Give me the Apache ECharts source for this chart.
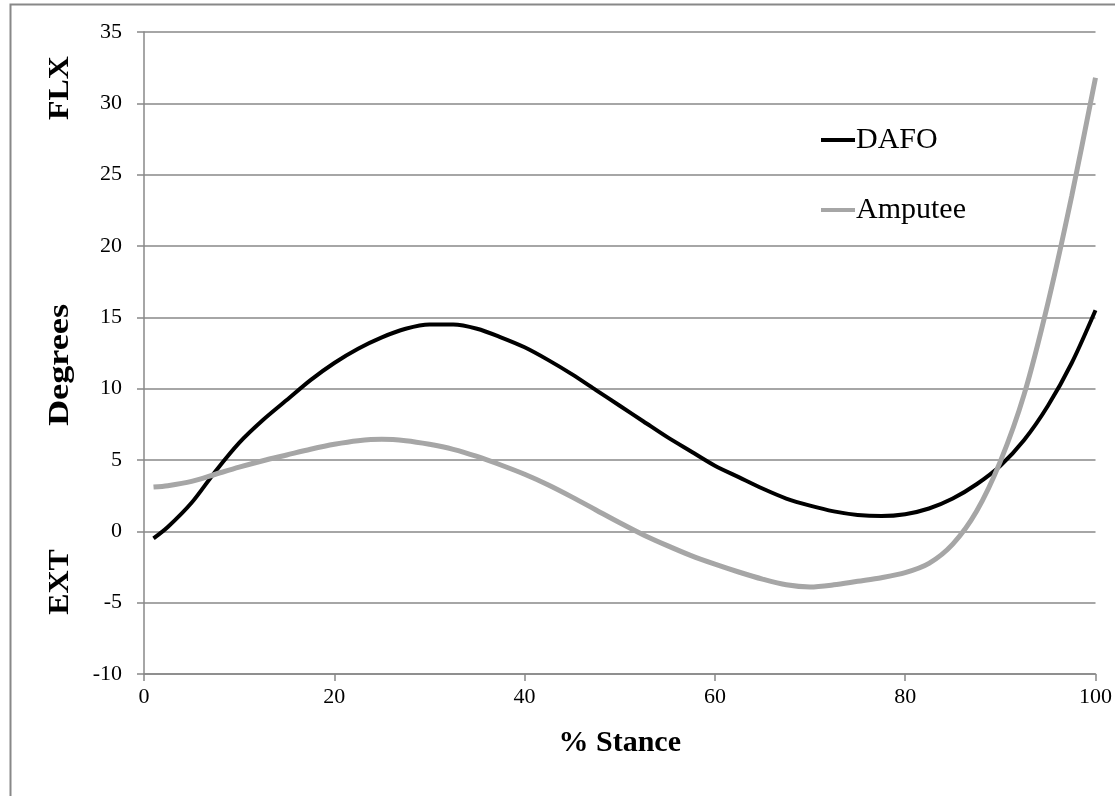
<!DOCTYPE html>
<html lang="en">
<head>
    <meta charset="UTF-8">
    <title>Degrees vs % Stance</title>
    <script src="https://cdn.jsdelivr.net/npm/echarts@6/dist/echarts.min.js"></script>
    <style>
        html, body { margin: 0; padding: 0; background: #fff; }
        #chart { width: 1115px; height: 796px; }
    </style>
</head>
<body>
    <div id="chart"></div>
<script>
    // % stance positions where the curves were read
    var stance = [1, 2.5, 5, 7.5, 10, 12.5, 15, 17.5, 20, 22.5, 25, 27.5, 30, 32.5, 35, 37.5, 40, 42.5, 45, 47.5,
        50, 52.5, 55, 57.5, 60, 62.5, 65, 67.5, 70, 72.5, 75, 77.5, 80, 82.5, 85, 87.5, 90, 92.5, 95, 97.5, 100];
    var dafo = [-0.5, 0.3, 2.0, 4.2, 6.2, 7.8, 9.2, 10.6, 11.8, 12.8, 13.6, 14.2, 14.5, 14.5, 14.2, 13.6, 12.9, 12.0, 11.0, 9.9,
        8.8, 7.7, 6.6, 5.6, 4.6, 3.8, 3.0, 2.3, 1.8, 1.4, 1.15, 1.07, 1.2, 1.6, 2.3, 3.3, 4.6, 6.4, 8.8, 11.8, 15.5];
    var amputee = [3.1, 3.2, 3.5, 4.0, 4.5, 4.95, 5.35, 5.75, 6.1, 6.35, 6.45, 6.35, 6.1, 5.75, 5.25, 4.65, 4.0, 3.25, 2.4, 1.5,
        0.6, -0.25, -1.0, -1.7, -2.3, -2.85, -3.35, -3.75, -3.9, -3.75, -3.5, -3.25, -2.9, -2.25, -0.9, 1.4, 4.9, 9.6, 16.0, 23.5, 31.8];
    var seriesNames = ['DAFO', 'Amputee'];
    var serif = '"Liberation Serif", "DejaVu Serif", serif';

    function pairs(vals) {
        var res = [];
        for (var i = 0; i < stance.length; i++) {
            res.push([stance[i], vals[i]]);
        }
        return res;
    }

    var myChart = echarts.init(document.getElementById('chart'));

    var option = {
        backgroundColor: '#fff',
        animation: false,
        grid: { left: 144, right: 14, top: 32, bottom: 122 },
        legend: {
            data: [
                { name: seriesNames[0], icon: 'rect', itemStyle: { color: '#000' } },
                { name: seriesNames[1], icon: 'rect', itemStyle: { color: '#a6a6a6' } }
            ],
            orient: 'vertical',
            left: 816,
            top: 120,
            itemWidth: 34,
            itemHeight: 4,
            itemGap: 40,
            textStyle: { fontFamily: serif, fontSize: 30, color: '#000', padding: [0, 0, 0, -4] }
        },
        xAxis: {
            type: 'value',
            min: 0, max: 100, interval: 20,
            name: '% Stance',
            nameLocation: 'middle',
            nameGap: 54,
            nameTextStyle: { fontFamily: serif, fontSize: 30, fontWeight: 'bold', color: '#000' },
            axisLine: { onZero: false, lineStyle: { color: '#888', width: 1.5 } },
            axisTick: { show: true, length: 7, lineStyle: { color: '#888', width: 1.5 } },
            axisLabel: { fontFamily: serif, fontSize: 22, color: '#000', margin: 12 },
            splitLine: { show: false }
        },
        yAxis: {
            type: 'value',
            min: -10, max: 35, interval: 5,
            axisLine: { show: true, lineStyle: { color: '#888', width: 1.5 } },
            axisTick: { show: true, length: 7, lineStyle: { color: '#888', width: 1.5 } },
            axisLabel: { fontFamily: serif, fontSize: 22, color: '#000', margin: 22 },
            splitLine: { lineStyle: { color: '#888', width: 1.5 } }
        },
        graphic: [
            {
                type: 'rect', left: 8, top: 2, silent: true,
                shape: { width: 1200, height: 900 },
                style: { fill: 'none', stroke: '#888', lineWidth: 2 }
            },
            {
                type: 'text', x: 61, y: 88, rotation: Math.PI / 2, scaleX: 1.1,
                style: { text: 'FLX', font: 'bold 29px ' + serif, fill: '#000', align: 'center', verticalAlign: 'middle' }
            },
            {
                type: 'text', x: 61, y: 365, rotation: Math.PI / 2, scaleX: 1.25,
                style: { text: 'Degrees', font: 'bold 29px ' + serif, fill: '#000', align: 'center', verticalAlign: 'middle' }
            },
            {
                type: 'text', x: 61, y: 582, rotation: Math.PI / 2, scaleX: 1.1,
                style: { text: 'EXT', font: 'bold 29px ' + serif, fill: '#000', align: 'center', verticalAlign: 'middle' }
            }
        ],
        series: [
            {
                name: seriesNames[0],
                type: 'line',
                smooth: 0.3,
                showSymbol: false,
                symbol: 'none',
                color: '#000',
                lineStyle: { color: '#000', width: 4 },
                data: pairs(dafo)
            },
            {
                name: seriesNames[1],
                type: 'line',
                smooth: 0.3,
                showSymbol: false,
                symbol: 'none',
                color: '#a6a6a6',
                lineStyle: { color: '#a6a6a6', width: 5 },
                data: pairs(amputee)
            }
        ]
    };
    myChart.setOption(option);
</script>
</body>
</html>
